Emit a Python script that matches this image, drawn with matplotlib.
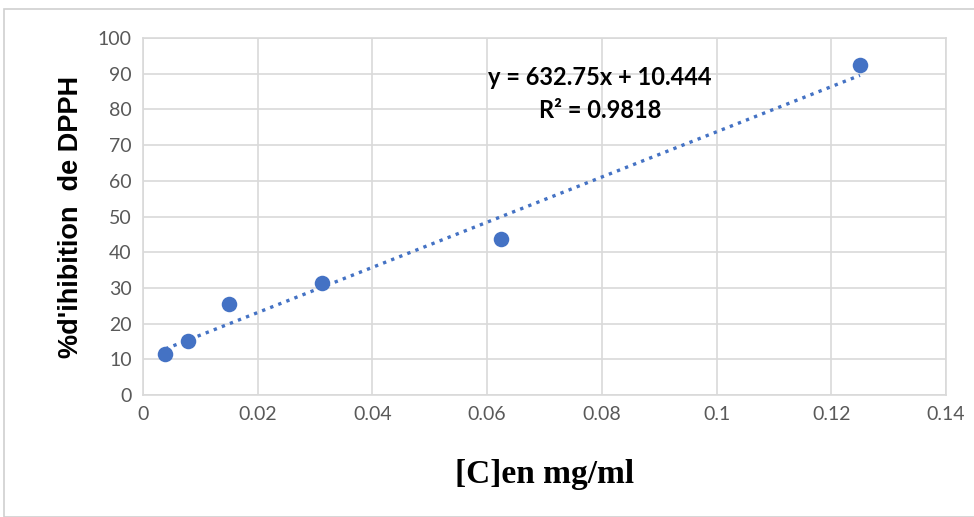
import matplotlib.pyplot as plt
from matplotlib.patches import Rectangle

# concentrations (mg/ml) and % inhibition of DPPH
conc = [0.0039, 0.0078, 0.015, 0.03125, 0.0625, 0.125]
inhib = [11.4, 15.0, 25.4, 31.4, 43.6, 92.3]

# trendline as given by the spreadsheet
slope = 632.75
intercept = 10.444
r2 = 0.9818

BLUE = "#4472C4"
GRID = "#d9d9d9"
TICK = "#595959"

fig = plt.figure(figsize=(9.74, 5.17), dpi=100)
fig.patches.append(Rectangle((4 / 974, 0), 2, 1 - 9 / 517, transform=fig.transFigure,
                             fill=False, edgecolor="#d0d0d0", linewidth=1.2))
ax = fig.add_axes([143 / 974, 1 - 395 / 517, (946 - 143) / 974, (395 - 38) / 517])

ax.set_xlim(0, 0.14)
ax.set_ylim(0, 100)
ax.set_xticks([0, 0.02, 0.04, 0.06, 0.08, 0.1, 0.12, 0.14])
ax.set_xticklabels(["0", "0.02", "0.04", "0.06", "0.08", "0.1", "0.12", "0.14"])
ax.set_yticks(range(0, 101, 10))
ax.grid(True, color=GRID, linewidth=1.2)
ax.set_axisbelow(True)
for s in ax.spines.values():
    s.set_color(GRID)
    s.set_linewidth(1.2)
ax.tick_params(length=0, labelsize=14, labelcolor=TICK, pad=8)
for lab in ax.get_xticklabels() + ax.get_yticklabels():
    lab.set_family("Lato")

x0, x1 = min(conc), max(conc)
ax.plot([x0, x1], [slope * x0 + intercept, slope * x1 + intercept],
        linestyle=(0, (1, 1.6)), color=BLUE, linewidth=2.4, zorder=2)
ax.scatter(conc, inhib, s=125, color=BLUE, zorder=3, linewidths=0)

ax.text(0.0797, 88.8, f"y = {slope}x + {intercept}", ha="center", va="center",
        fontsize=17, fontweight="bold", family="Lato")
ax.text(0.0797, 79.8, f"R² = {r2}", ha="center", va="center",
        fontsize=17, fontweight="bold", family="Lato")

ax.set_ylabel("%d'ihibition  de DPPH", fontsize=19.5, fontweight="bold",
              family="Liberation Sans", labelpad=10)
ax.set_xlabel("[C]en mg/ml", fontsize=24, fontweight="bold",
              family="Liberation Serif", labelpad=26)

fig.savefig("out.png", dpi=100)
